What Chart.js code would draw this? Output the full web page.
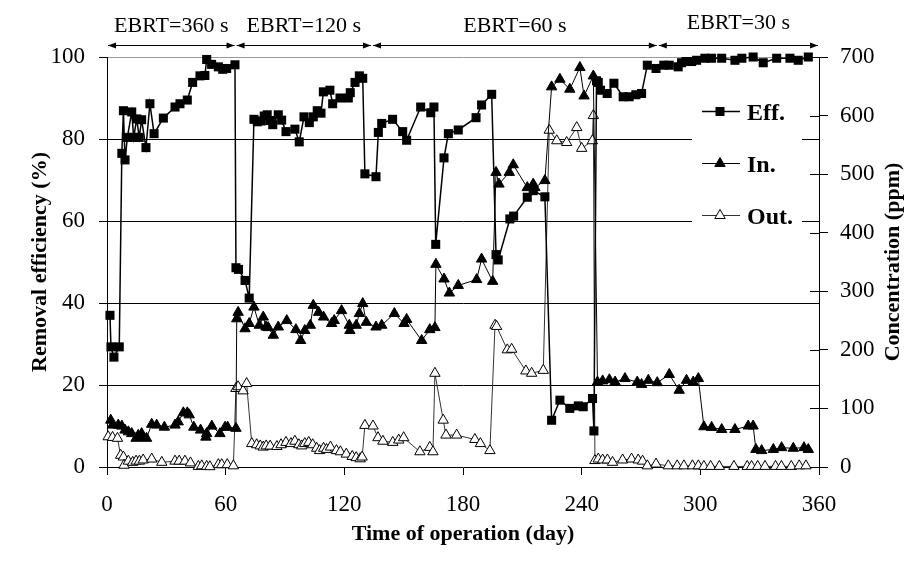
<!DOCTYPE html>
<html>
<head>
<meta charset="utf-8">
<script src="https://cdn.jsdelivr.net/npm/chart.js@4/dist/chart.umd.min.js"></script>
<style>
    html, body { margin: 0; padding: 0; background: #fff; }
    #wrap { width: 920px; height: 565px; }
</style>
</head>
<body>
<div id="wrap"><canvas id="chart" width="920" height="565"></canvas></div>
<script>
// Data
const effDays = [1.5, 2, 3.5, 6.2, 7.5, 8.3, 9.1, 10.3, 12.5, 13.5, 15, 16.3, 17.5, 19.7, 21.7, 23.8, 28.5, 34.4, 36.9, 40.6,
    43.3, 47, 49.5, 50.4, 52.9, 56.3, 58.5, 60.5, 64.7, 65.2, 66.5, 69.8, 71.9, 74.3, 76, 78, 79.5, 81, 82.5, 83.8,
    86.6, 88.3, 90.5, 95, 97.2, 99.6, 102.3, 104.3, 106.3, 108.2, 109.4, 112.7, 114.1, 117.8, 122, 123, 125.4, 127.6, 129.3, 130.4,
    136, 137.2, 138.9, 144.4, 149.5, 151.5, 158.6, 163.7, 165.3, 166.2, 170.4, 172.6, 177.6, 186.6, 189.4, 194.5, 196.7, 197.8, 203.7, 205.6,
    212.5, 215.5, 221.4, 224.8, 229, 234, 238.3, 240.8, 245.5, 246.2, 247.5, 248.4, 249.5, 252.9, 256.3, 261, 264, 267.4, 270.3, 273.2,
    277.6, 281.5, 284.3, 288.8, 290.5, 292.7, 295.6, 298.1, 302.3, 305.7, 310.8, 317.5, 321, 326.7, 331.8, 338.6, 345.3, 349.5, 354.6];
const effValues = [37, 29.3, 26.8, 29.3, 76.5, 86.9, 74.9, 80.4, 86.6, 80.4, 84.9, 80.4, 84.7, 77.9, 88.6, 81.3, 85.1, 87.8, 88.6, 89.5,
    93.8, 95.4, 95.5, 99.4, 98.2, 97.6, 97, 97.2, 98.1, 48.6, 48.2, 45.5, 41.2, 84.8, 84.2, 84.4, 85.6, 85.9, 84.5, 83.5,
    85.9, 84.6, 81.8, 82.4, 79.3, 85.4, 84, 85.4, 86.9, 86.3, 91.5, 91.9, 88.6, 90, 90, 91.3, 93.8, 95.4, 94.8, 71.5,
    70.8, 81.6, 83.8, 84.8, 81.8, 79.7, 87.8, 86.4, 87.8, 54.3, 75.4, 81.3, 82.2, 85.2, 88.3, 90.9, 51.8, 50.5, 60.5, 61.2,
    65.8, 67.4, 65.9, 11.4, 16.3, 14.3, 14.9, 14.7, 16.7, 8.8, 94.2, 93.8, 91.9, 91.1, 93.6, 90.3, 90.3, 90.8, 91.1, 98,
    97.2, 98, 98, 97.6, 98.6, 98.9, 98.9, 99.2, 99.7, 99.7, 99.7, 99.2, 99.7, 100, 98.6, 99.7, 99.7, 99.2, 100];

const inDays = [1.9, 2.8, 5.7, 7.5, 9.1, 10.8, 12.5, 14.7, 15.8, 17.5, 18.3, 20, 22.6, 25.1, 29, 34.4, 36, 38.6, 40.6, 41.6,
    43.9, 47.3, 50, 50.4, 53, 57.1, 59.7, 61, 65.2, 65.6, 66.3, 69.8, 71.9, 74.3, 77, 79, 80.4, 81.5, 84.1, 86.6,
    90.9, 95.5, 97.9, 100, 102.8, 104.3, 107, 109.5, 113.6, 114.9, 118.6, 122.5, 122.8, 126, 127.6, 129.3, 131.1, 136, 138.9, 145.3,
    150.2, 151.5, 159.1, 163.2, 165.8, 166.3, 170.4, 173.1, 177.6, 186.9, 189.4, 195, 196.7, 198.2, 203.4, 205.4, 212.5, 215.5, 216.3, 221.4,
    224.8, 229, 234, 239.1, 241.2, 245.9, 248, 250.6, 254, 256.9, 261.9, 268.1, 270.3, 273.7, 278.2, 284.3, 289.3, 293, 296.4, 299,
    301.8, 305.7, 310.8, 317.5, 324.2, 326.7, 328.1, 331, 336.9, 341.1, 347, 352.4, 354.6];
const inValues = [80, 71.5, 71.5, 69.8, 63, 60, 57, 49, 54, 57, 51, 49, 73, 71.5, 68, 71.5, 77, 92.5, 92.5, 89,
    68, 63, 51, 57, 69.8, 57, 68, 68, 66, 253, 264, 236, 245, 273, 242, 256, 239, 238, 225, 239,
    250, 234.5, 216, 233, 242, 276, 264, 256, 245, 250, 267, 242, 233, 242, 262, 279, 247, 239, 242, 262,
    245, 252, 216, 234.5, 238, 346, 321, 297, 310, 320, 355, 317, 503, 483, 503, 516, 477, 483, 477, 489,
    649, 662, 645, 682, 633.5, 667.6, 145, 147, 149, 145, 151, 145, 141, 148, 144, 158, 131, 148, 145, 151,
    68.7, 67.6, 64, 64, 70, 70, 30, 28, 30, 33, 32, 33, 30];

const outDays = [0.6, 2.8, 5.3, 6.9, 8.3, 8.6, 10.8, 13, 14.7, 16.4, 18.3, 22.6, 27.7, 34.4, 36.5, 39.4, 42.2, 46.2, 47.9, 50.4,
    52, 56.3, 58, 60.8, 63.9, 65.2, 66.3, 68.8, 70.6, 73.2, 75.7, 77.5, 79, 80.5, 82.5, 85.9, 88, 90.5, 93, 95,
    97, 98.5, 100, 102, 104, 106, 107.5, 109.5, 111, 113, 116, 118, 121, 124, 126, 128, 129, 130.4, 134.5, 137,
    139.5, 144.5, 147.5, 150, 158.2, 163.2, 164.8, 165.8, 170, 171.4, 176.8, 186, 188.8, 193.6, 196.2, 197, 202.4, 204.6, 211.8, 214.7,
    220.6, 223.6, 227.4, 232.4, 237.5, 240, 245.4, 245.9, 246.7, 248.4, 250.6, 253, 255.6, 260.7, 265.2, 268.6, 270.8, 273.2, 277.6, 283.8,
    288.3, 291.7, 296, 299, 301.8, 305.2, 309.6, 317, 323.7, 325.9, 329, 332.7, 338, 341, 346, 350, 353.4];
const outValues = [51.6, 50.5, 49, 20, 17, 3, 10, 8, 10, 10, 12, 13.6, 8, 10, 10, 10, 7, 1, 2, 1,
    0.5, 4, 4, 4, 2, 134, 137, 130, 142.5, 40, 38, 36, 34, 36, 35.7, 35, 38, 42, 40, 44,
    38, 36, 40, 42, 38, 32, 28, 32, 30, 34, 28, 26, 22, 18, 16, 14, 17, 71, 70, 50,
    44, 42, 46, 50, 26, 33.5, 26, 160, 80, 54.5, 54.5, 47, 40, 28, 242, 240, 200, 201, 164, 160,
    165, 575, 557, 554, 579.5, 544, 557, 600, 11, 13.6, 12, 12, 8, 12, 13.6, 12, 10, 2, 5, 2,
    2, 2, 2, 2, 1, 1, 1, 1, 1, 1, 1, 1, 1, 1, 1, 2, 2];

const xTickValues = [0, 60, 120, 180, 240, 300, 360];
const effTickValues = [0, 20, 40, 60, 80, 100];
const concTickValues = [0, 100, 200, 300, 400, 500, 600, 700];

const periodBounds = [0, 65, 134, 278.5, 360];
const periodLabels = ['EBRT=360 s', 'EBRT=120 s', 'EBRT=60 s', 'EBRT=30 s'];

const seriesNames = ['Eff.', 'In.', 'Out.'];

const SERIF = "'Liberation Serif', 'Times New Roman', serif";

function toPoints(days, values) {
    return days.map((d, i) => ({ x: d, y: values[i] }));
}

function setTicks(values) {
    return scale => { scale.ticks = values.map(v => ({ value: v })); };
}

function marker(ctx, style, x, y) {
    ctx.save();
    ctx.lineWidth = 1;
    ctx.strokeStyle = '#000';
    if (style === 'rect') {
        ctx.fillStyle = '#000';
        ctx.fillRect(x - 4.5, y - 4.5, 9, 9);
    } else {
        ctx.fillStyle = style === 'openTri' ? '#fff' : '#000';
        ctx.beginPath();
        ctx.moveTo(x, y - 6);
        ctx.lineTo(x + 5.2, y + 3);
        ctx.lineTo(x - 5.2, y + 3);
        ctx.closePath();
        ctx.fill();
        ctx.stroke();
    }
    ctx.restore();
}

// EBRT arrows, right axis inner ticks, legend box, right title
const extrasPlugin = {
    id: 'extras',
    afterDraw(chart) {
        const ctx = chart.ctx;
        const xs = chart.scales.x;
        const y2 = chart.scales.y2;
        const area = chart.chartArea;

        ctx.save();
        // right axis ticks crossing inward
        ctx.strokeStyle = '#000';
        ctx.lineWidth = 1;
        concTickValues.forEach(v => {
            const py = Math.round(y2.getPixelForValue(v)) + 0.5;
            ctx.beginPath();
            ctx.moveTo(area.right - 9, py);
            ctx.lineTo(area.right, py);
            ctx.stroke();
        });

        // EBRT arrows
        const arrowY = 45.5;
        ctx.fillStyle = '#000';
        for (let i = 0; i < periodLabels.length; i++) {
            const x1 = xs.getPixelForValue(periodBounds[i]) + 1;
            const x2 = xs.getPixelForValue(periodBounds[i + 1]) - 1;
            ctx.beginPath();
            ctx.moveTo(x1, arrowY);
            ctx.lineTo(x2, arrowY);
            ctx.stroke();
            ctx.beginPath();
            ctx.moveTo(x1, arrowY);
            ctx.lineTo(x1 + 8, arrowY - 3);
            ctx.lineTo(x1 + 8, arrowY + 3);
            ctx.closePath();
            ctx.fill();
            ctx.beginPath();
            ctx.moveTo(x2, arrowY);
            ctx.lineTo(x2 - 8, arrowY - 3);
            ctx.lineTo(x2 - 8, arrowY + 3);
            ctx.closePath();
            ctx.fill();

            ctx.font = '22px ' + SERIF;
            ctx.textAlign = 'center';
            ctx.textBaseline = 'alphabetic';
            const ty = i === periodLabels.length - 1 ? 29 : 32;
            ctx.fillText(periodLabels[i], (x1 + x2) / 2, ty);
        }

        // legend
        ctx.fillStyle = '#fff';
        ctx.fillRect(692, 82, 110, 165);
        const styles = ['rect', 'tri', 'openTri'];
        const rows = [111, 163, 215];
        rows.forEach((ry, i) => {
            ctx.strokeStyle = i === 2 ? '#333' : '#000';
            ctx.lineWidth = i === 0 ? 1.5 : 1;
            ctx.beginPath();
            ctx.moveTo(702, ry + 0.5);
            ctx.lineTo(740, ry + 0.5);
            ctx.stroke();
            marker(ctx, styles[i], 720, ry + 0.5);
            ctx.fillStyle = '#000';
            ctx.font = 'bold 24px ' + SERIF;
            ctx.textAlign = 'left';
            ctx.textBaseline = 'alphabetic';
            ctx.fillText(seriesNames[i], 747, ry + 9);
        });

        // right axis title, reading bottom to top
        ctx.translate(893, (area.top + area.bottom) / 2);
        ctx.rotate(-Math.PI / 2);
        ctx.font = 'bold 22px ' + SERIF;
        ctx.textAlign = 'center';
        ctx.textBaseline = 'middle';
        ctx.fillStyle = '#000';
        ctx.fillText('Concentration (ppm)', 0, 0);
        ctx.restore();
    }
};

const tickFont = { family: SERIF, size: 23 };
const titleFont = { family: SERIF, size: 22, weight: 'bold' };

new Chart(document.getElementById('chart'), {
    type: 'line',
    data: {
        datasets: [
            {
                label: seriesNames[0],
                data: toPoints(effDays, effValues),
                yAxisID: 'y',
                borderColor: '#000',
                borderWidth: 1.5,
                pointStyle: 'rect',
                pointRadius: 6.4,
                pointBackgroundColor: '#000',
                pointBorderColor: '#000',
                pointBorderWidth: 0,
                tension: 0,
                clip: false,
            },
            {
                label: seriesNames[1],
                data: toPoints(inDays, inValues),
                yAxisID: 'y2',
                borderColor: '#000',
                borderWidth: 1,
                pointStyle: 'triangle',
                pointRadius: 6,
                pointBackgroundColor: '#000',
                pointBorderColor: '#000',
                pointBorderWidth: 1,
                tension: 0,
                clip: false,
            },
            {
                label: seriesNames[2],
                data: toPoints(outDays, outValues),
                yAxisID: 'y2',
                borderColor: '#333',
                borderWidth: 1,
                pointStyle: 'triangle',
                pointRadius: 6,
                pointBackgroundColor: '#fff',
                pointBorderColor: '#000',
                pointBorderWidth: 1,
                tension: 0,
                clip: false,
            },
        ]
    },
    options: {
        responsive: false,
        animation: false,
        devicePixelRatio: 1,
        layout: { padding: { top: 57, left: 0, right: 0, bottom: 0 } },
        plugins: {
            legend: { display: false },
            tooltip: { enabled: false },
        },
        scales: {
            x: {
                type: 'linear',
                min: 0,
                max: 360,
                afterBuildTicks: setTicks(xTickValues),
                afterFit: s => { s.height = 98; },
                grid: { drawOnChartArea: false, drawTicks: true, tickLength: 8, tickColor: '#000' },
                border: { display: true, color: '#000', width: 1 },
                ticks: { color: '#000', font: tickFont, padding: 16, maxRotation: 0, autoSkip: false },
                title: { display: true, text: 'Time of operation (day)', color: '#000', font: titleFont, padding: { top: 0, bottom: 17 } },
            },
            y: {
                position: 'left',
                min: 0,
                max: 100,
                afterBuildTicks: setTicks(effTickValues),
                afterFit: s => { s.width = 107; },
                grid: {
                    color: c => c.tick && c.tick.value === 100 ? '#999' : (c.tick && c.tick.value === 0 ? 'rgba(0,0,0,0)' : '#000'),
                    lineWidth: 1,
                    tickLength: 8,
                    tickColor: '#000',
                },
                border: { display: true, color: '#000', width: 1 },
                ticks: { color: '#000', font: tickFont, padding: 14 },
                title: { display: true, text: 'Removal efficiency (%)', color: '#000', font: titleFont, padding: { top: 27, bottom: 0 } },
            },
            y2: {
                position: 'right',
                min: 0,
                max: 700,
                afterBuildTicks: setTicks(concTickValues),
                afterFit: s => { s.width = 101; },
                grid: { drawOnChartArea: false, tickLength: 9, tickColor: '#000' },
                border: { display: true, color: '#000', width: 1 },
                ticks: { color: '#000', font: tickFont, padding: 12 },
            },
        }
    },
    plugins: [extrasPlugin]
});
</script>
</body>
</html>
